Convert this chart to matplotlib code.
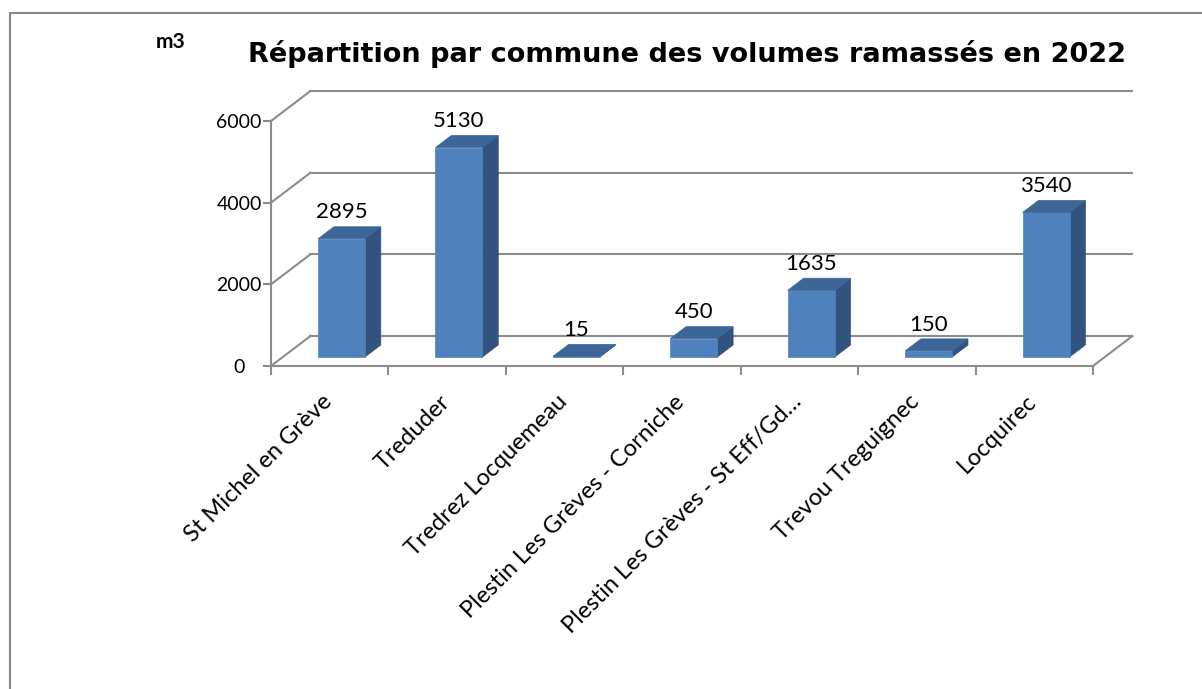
import matplotlib
matplotlib.use("Agg")
import matplotlib.pyplot as plt
from matplotlib.patches import Polygon, Rectangle
from matplotlib.ticker import FixedLocator
from matplotlib.transforms import ScaledTranslation

# ---- data ----
communes = ["St Michel en Grève", "Treduder", "Tredrez Locquemeau",
            "Plestin Les Grèves - Corniche", "Plestin Les Grèves - St Eff/Gd…",
            "Trevou Treguignec", "Locquirec"]
volumes = [2895, 5130, 15, 450, 1635, 150, 3540]
yticks = [0, 2000, 4000, 6000]
title = "Répartition par commune des volumes ramassés en 2022"
unit = "m3"

# ---- style / layout ----
W, H = 1202, 689
plt.rcParams['font.family'] = ['Lato', 'DejaVu Sans']
GRID = '#8C8C8C'
FRONT = '#4F81BD'
SIDE = '#31537D'
TOP = '#3C6698'
DX, DY = 0.336, 735.0        # depth of the 3D box in data units
F0, F1 = 0.30, 0.70          # bar depth (front/back fraction)
BW = 0.40                    # bar width (category units)

fig = plt.figure(figsize=(W / 100, H / 100), dpi=100)
fig.patch.set_facecolor('white')
fig.add_artist(Rectangle((9.5 / W, -0.1), 1.5, (H - 13) / H + 0.1,
                         transform=fig.transFigure, fill=False,
                         edgecolor='#868686', lw=1.5))

ax = fig.add_axes([271 / W, (H - 366) / H, 822 / W, 245 / H])
n = len(communes)
ax.set_xlim(0, n)
ax.set_ylim(0, 6000)
ax.set_facecolor('none')

# walls / gridlines
for v in yticks:
    ax.plot([0, DX], [v, v + DY], color=GRID, lw=1.5, clip_on=False, zorder=1)
    ax.plot([DX, n + DX], [v + DY, v + DY], color=GRID, lw=1.5, clip_on=False, zorder=1)
ax.plot([n, n + DX], [0, DY], color=GRID, lw=1.5, clip_on=False, zorder=1)

# bars
ddx, ddy = (F1 - F0) * DX, (F1 - F0) * DY
for i, v in enumerate(volumes):
    x0 = i + 0.5 - BW / 2 + F0 * DX
    y0 = F0 * DY
    front = [(x0, y0), (x0 + BW, y0), (x0 + BW, y0 + v), (x0, y0 + v)]
    side = [(x0 + BW, y0), (x0 + BW + ddx, y0 + ddy),
            (x0 + BW + ddx, y0 + ddy + v), (x0 + BW, y0 + v)]
    top = [(x0, y0 + v), (x0 + BW, y0 + v),
           (x0 + BW + ddx, y0 + v + ddy), (x0 + ddx, y0 + v + ddy)]
    for pts, c in ((side, SIDE), (front, FRONT), (top, TOP)):
        ax.add_patch(Polygon(pts, closed=True, facecolor=c, edgecolor=c,
                             lw=0.5, clip_on=False, zorder=3))
    ax.annotate(f"{v}", xy=(x0 + BW / 2, y0 + v + ddy), xytext=(0, 6),
                textcoords='offset points', ha='center', va='baseline',
                fontsize=16, color='black', zorder=5, annotation_clip=False)

# axes
for s in ('top', 'right'):
    ax.spines[s].set_visible(False)
for s in ('left', 'bottom'):
    ax.spines[s].set_color(GRID)
    ax.spines[s].set_linewidth(1.5)
ax.set_yticks(yticks)
ax.set_yticklabels([str(t) for t in yticks])
ax.tick_params(axis='y', length=6, width=1.5, color=GRID, pad=17, labelsize=14)
for lab in ax.get_yticklabels():
    lab.set_horizontalalignment('center')
ax.set_xticks([i + 0.5 for i in range(n)])
ax.set_xticklabels(communes, rotation=45, ha='right', rotation_mode='anchor', fontsize=17)
ax.tick_params(axis='x', which='major', length=0, pad=16)
ax.xaxis.set_minor_locator(FixedLocator(list(range(n + 1))))
ax.tick_params(axis='x', which='minor', length=6.5, width=1.5, color=GRID)
shift = ScaledTranslation(-6 / 72, -2 / 72, fig.dpi_scale_trans)
for lab in ax.get_xticklabels():
    lab.set_transform(lab.get_transform() + shift)

fig.text(687 / W, 1 - 62 / H, title, ha='center', va='baseline',
         fontsize=19.5, fontweight='bold', family=['DejaVu Sans'])
fig.text(171 / W, 1 - 48 / H, unit, ha='center', va='baseline',
         fontsize=15, fontweight='bold')

fig.savefig('out.png', dpi=100)
